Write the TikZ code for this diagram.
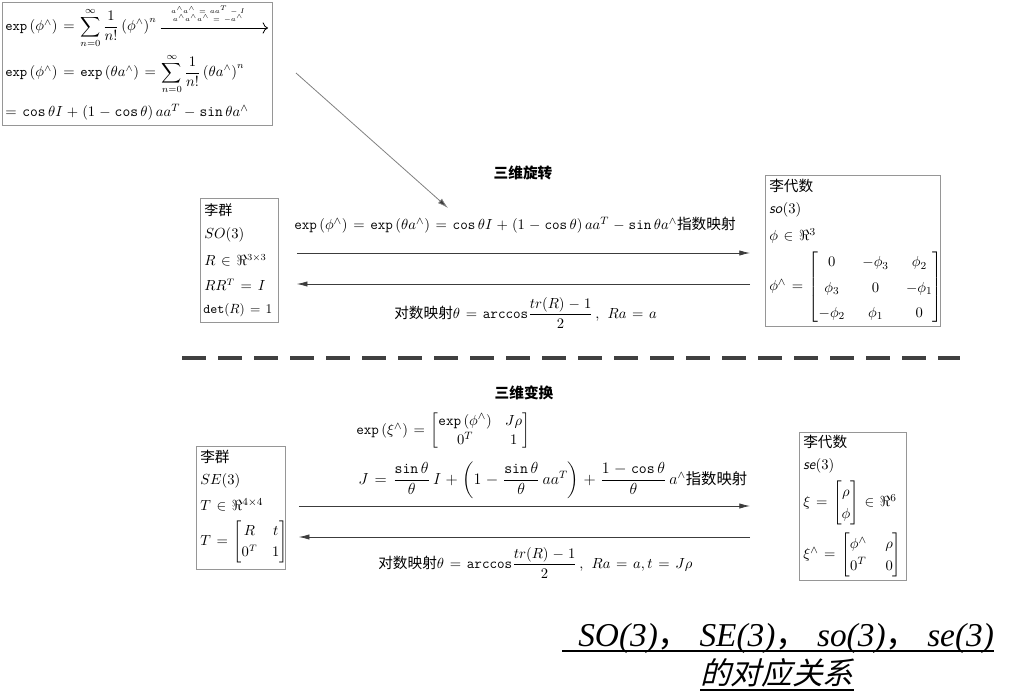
\documentclass[tikz,border=0pt]{standalone}
\usepackage{amsmath}
\usepackage{amssymb}
\usepackage{fontspec}
\usetikzlibrary{arrows.meta}
\newfontfamily\cjk{Noto Sans CJK SC}
\newfontfamily\cjkslant[FakeSlant=0.25]{Noto Sans CJK SC}
\newfontfamily\titlefont{Liberation Serif}
\def\wg{^{\wedge}}
\def\mexp{\mathtt{exp}}
\def\alg#1{\textsf{\itshape #1}}
\thickmuskip=7mu plus 2mu
\medmuskip=5mu plus 2mu
\definecolor{boxgray}{RGB}{150,150,150}
\definecolor{arrgray}{RGB}{60,60,60}
\tikzset{
  box/.style={draw=boxgray, line width=0.6pt, anchor=north west, inner sep=0pt},
  txt/.style={anchor=west, inner sep=0.75pt, font=\fontsize{11}{13}\selectfont},
  intxt/.style={txt, font=\fontsize{10.5}{13}\selectfont},
  small/.style={inner sep=0.5pt, font=\fontsize{4}{5}\selectfont},
  fwd/.style={draw=arrgray, line width=0.6pt, -{Latex[length=8pt,width=4pt]}},
  head/.style={inner sep=0.75pt, font=\cjk\bfseries\fontsize{11}{13}\selectfont},
}
\begin{document}
\begin{tikzpicture}[x=0.75pt,y=0.75pt,yscale=-1,xscale=1]
		\useasboundingbox (0,0) rectangle (1014,699);
		% exponent series
		\node [box, minimum width=202.5pt, minimum height=92.25pt] (topbox) at (2,2) {};
		\node [intxt] (ser1) at (4,28) {$\mexp\left(\phi\wg\right) = \displaystyle\sum_{n=0}^{\infty}\frac{1}{n!}\left(\phi\wg\right)^{n}$};
		\coordinate (sb) at (268,28);
		\draw [-{To[length=4pt]}, line width=0.6pt] ([xshift=2pt]ser1.east) -- (sb);
		\node [small] (ida) at (208,10) {$a\wg a\wg = aa^{T} - I$};
		\node [small] (idb) at (208,19) {$a\wg a\wg a\wg = -a\wg$};
		\node [intxt] (ser2) at (4,74) {$\mexp\left(\phi\wg\right) = \mexp\left(\theta a\wg\right) = \displaystyle\sum_{n=0}^{\infty}\frac{1}{n!}\left(\theta a\wg\right)^{n}$};
		\node [txt, font=\fontsize{11.3}{13}\selectfont] (ser3) at (4,112) {$= \mathtt{cos}\,\theta I + \left(1 - \mathtt{cos}\,\theta\right)aa^{T} - \mathtt{sin}\,\theta a\wg$};
		\coordinate (dstart) at (296,73);
		\coordinate (dend) at (448,208);
		\draw [draw=gray, line width=0.6pt, -{Latex[length=8pt,width=4.5pt,fill=arrgray]}] (dstart) -- (dend);
		% rotation
		\node [head] (rot) at (523,173) {三维旋转};
		\node [box, minimum width=58.5pt, minimum height=93pt] (SOgrp) at (200,198) {};
		\node [intxt] at (203,210) {\cjk 李群};
		\node [intxt] at (203,235) {$SO(3)$};
		\node [intxt] at (203,260) {$R \in \Re^{3\times 3}$};
		\node [intxt] at (203,285) {$RR^{T} = I$};
		\node [txt, font=\fontsize{10}{12}\selectfont] at (202,310) {$\mathtt{det}(R) = 1$};
		\node [box, minimum width=131.25pt, minimum height=113.25pt] (soalg) at (765,175) {};
		\node [txt] at (768,186) {\cjk 李代数};
		\node [txt] at (768,210) {\alg{so}$(3)$};
		\node [txt] at (768,236) {$\phi \in \Re^{3}$};
		\node [txt] at (768,287) {\renewcommand\arraystretch{1.45}\setlength\arraycolsep{6.5pt}$\phi\wg = \begin{bmatrix} 0 & -\phi_{3} & \phi_{2}\\ \phi_{3} & 0 & -\phi_{1}\\ -\phi_{2} & \phi_{1} & 0 \end{bmatrix}$};
		\node [txt] (rotexp) at (293,225) {$\mexp\left(\phi\wg\right) = \mexp\left(\theta a\wg\right) = \mathtt{cos}\,\theta I + \left(1 - \mathtt{cos}\,\theta\right)aa^{T} - \mathtt{sin}\,\theta a\wg$\cjk 指数映射};
		\node [txt] (rotlog) at (393,313) {\cjk 对数映射$\theta = \mathtt{arccos}\dfrac{tr(R) - 1}{2}\,,\; Ra = a$};
		\draw [fwd, shorten <=13.5pt, shorten >=11.25pt] (SOgrp.east |- 0,253) -- (soalg.west |- 0,253);
		\draw [fwd, shorten <=11.25pt, shorten >=13.5pt] (soalg.west |- 0,284) -- (SOgrp.east |- 0,284);
		% separator
		\draw [draw=black!75, line width=3pt, dash pattern={on 18pt off 9pt}] (182,358) -- (960,358);
		% transformation
		\node [head] (trans) at (524,393) {三维变换};
		\node [txt] (texp) at (355,431) {\renewcommand\arraystretch{1.1}$\mexp\left(\xi\wg\right) = \begin{bmatrix} \mexp\left(\phi\wg\right) & J\rho\\ 0^{T} & 1 \end{bmatrix}$};
		\node [txt, font=\fontsize{11.5}{13}\selectfont] (tjac) at (357,480) {$J = \dfrac{\mathtt{sin}\,\theta}{\theta}\, I + \left(1 - \dfrac{\mathtt{sin}\,\theta}{\theta}\, aa^{T}\right) + \dfrac{1 - \mathtt{cos}\,\theta}{\theta}\, a\wg$\cjk 指数映射};
		\node [txt] (tlog) at (377,563) {\cjk 对数映射$\theta = \mathtt{arccos}\dfrac{tr(R) - 1}{2}\,,\; Ra = a, t = J\rho$};
		\node [box, minimum width=66.75pt, minimum height=92.25pt] (SEgrp) at (196,446) {};
		\node [txt] at (199,457) {\cjk 李群};
		\node [txt] at (199,481) {$SE(3)$};
		\node [txt] at (199,505) {$T \in \Re^{4\times 4}$};
		\node [intxt] at (199,542) {\renewcommand\arraystretch{1.2}\setlength\arraycolsep{5.5pt}$T = \begin{bmatrix} R & t\\ 0^{T} & 1 \end{bmatrix}$};
		\node [box, minimum width=80.25pt, minimum height=111pt] (sealg) at (799,432) {};
		\node [txt] at (802,442) {\cjk 李代数};
		\node [txt] at (802,466) {\alg{se}$(3)$};
		\node [txt] at (802,503) {\renewcommand\arraystretch{1.25}$\xi = \begin{bmatrix} \rho\\ \phi \end{bmatrix} \in \Re^{6}$};
		\node [txt] at (802,555) {\renewcommand\arraystretch{1.25}\setlength\arraycolsep{7pt}$\xi\wg = \begin{bmatrix} \phi\wg & \rho\\ 0^{T} & 0 \end{bmatrix}$};
		\draw [fwd, shorten <=9.75pt, shorten >=36.75pt] (SEgrp.east |- 0,506) -- (sealg.west |- 0,506);
		\draw [fwd, shorten <=36.75pt, shorten >=9.75pt] (sealg.west |- 0,537) -- (SEgrp.east |- 0,537);
		% caption
		\node [anchor=base west, inner sep=0pt, font=\titlefont\itshape\fontsize{25}{30}\selectfont] (cap1) at (578,646) {SO(3)\cjk ，\titlefont\ SE(3)\cjk ，\titlefont\ so(3)\cjk ，\titlefont\ se(3)};
		\node [anchor=base west, inner sep=0pt, font=\cjkslant\fontsize{23}{28}\selectfont] (cap2) at (700,684) {的对应关系};
		\draw [line width=1.5pt] (562,651) -- (cap1.base east |- 0,651);
		\draw [line width=1.5pt] (cap2.base west |- 0,690) -- (cap2.base east |- 0,690);
\end{tikzpicture}
\end{document}
